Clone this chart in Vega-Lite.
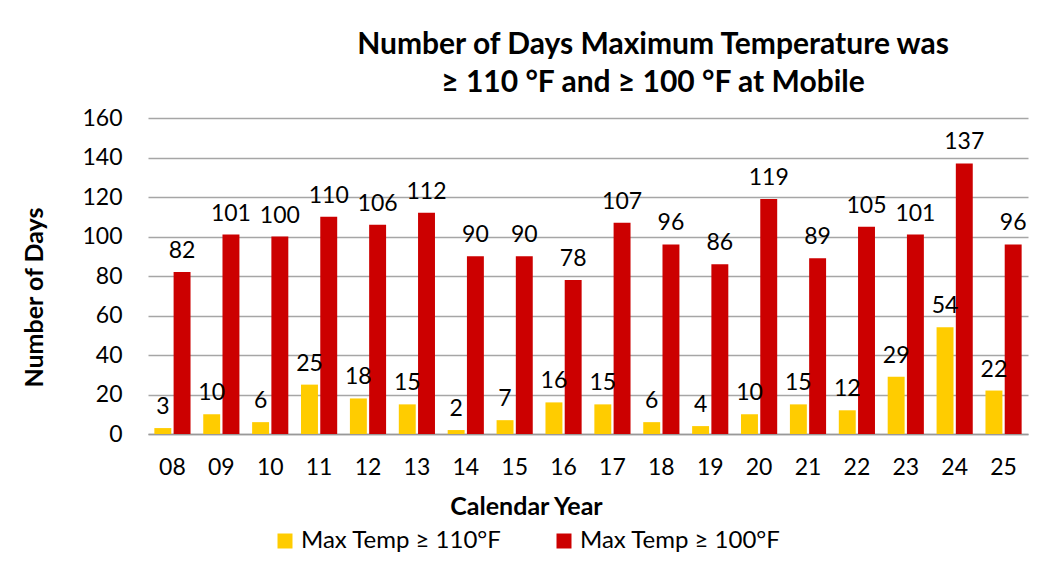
{
  "$schema": "https://vega.github.io/schema/vega-lite/v6.json",
  "width": 880,
  "height": 316,
  "autosize": {"type": "none"},
  "padding": {"left": 148, "top": 118, "right": 13, "bottom": 129},
  "background": "white",
  "title": {
    "text": ["Number of Days Maximum Temperature was", "≥ 110 °F and ≥ 100 °F at Mobile"],
    "fontSize": 30,
    "font": "Lato",
    "fontWeight": "bold",
    "color": "#000000",
    "lineHeight": 38,
    "anchor": "middle",
    "dx": 65,
    "offset": 9
  },
  "config": {
    "font": "Lato",
    "view": {"stroke": null},
    "axis": {"labelFont": "Lato", "titleFont": "Lato", "labelColor": "#000", "titleColor": "#000"}
  },
  "data": {
    "values": [
      {"year": "08", "series": "Max Temp ≥ 110°F", "days": 3},
      {"year": "09", "series": "Max Temp ≥ 110°F", "days": 10},
      {"year": "10", "series": "Max Temp ≥ 110°F", "days": 6},
      {"year": "11", "series": "Max Temp ≥ 110°F", "days": 25},
      {"year": "12", "series": "Max Temp ≥ 110°F", "days": 18},
      {"year": "13", "series": "Max Temp ≥ 110°F", "days": 15},
      {"year": "14", "series": "Max Temp ≥ 110°F", "days": 2},
      {"year": "15", "series": "Max Temp ≥ 110°F", "days": 7},
      {"year": "16", "series": "Max Temp ≥ 110°F", "days": 16},
      {"year": "17", "series": "Max Temp ≥ 110°F", "days": 15},
      {"year": "18", "series": "Max Temp ≥ 110°F", "days": 6},
      {"year": "19", "series": "Max Temp ≥ 110°F", "days": 4},
      {"year": "20", "series": "Max Temp ≥ 110°F", "days": 10},
      {"year": "21", "series": "Max Temp ≥ 110°F", "days": 15},
      {"year": "22", "series": "Max Temp ≥ 110°F", "days": 12},
      {"year": "23", "series": "Max Temp ≥ 110°F", "days": 29},
      {"year": "24", "series": "Max Temp ≥ 110°F", "days": 54},
      {"year": "25", "series": "Max Temp ≥ 110°F", "days": 22},
      {"year": "08", "series": "Max Temp ≥ 100°F", "days": 82},
      {"year": "09", "series": "Max Temp ≥ 100°F", "days": 101},
      {"year": "10", "series": "Max Temp ≥ 100°F", "days": 100},
      {"year": "11", "series": "Max Temp ≥ 100°F", "days": 110},
      {"year": "12", "series": "Max Temp ≥ 100°F", "days": 106},
      {"year": "13", "series": "Max Temp ≥ 100°F", "days": 112},
      {"year": "14", "series": "Max Temp ≥ 100°F", "days": 90},
      {"year": "15", "series": "Max Temp ≥ 100°F", "days": 90},
      {"year": "16", "series": "Max Temp ≥ 100°F", "days": 78},
      {"year": "17", "series": "Max Temp ≥ 100°F", "days": 107},
      {"year": "18", "series": "Max Temp ≥ 100°F", "days": 96},
      {"year": "19", "series": "Max Temp ≥ 100°F", "days": 86},
      {"year": "20", "series": "Max Temp ≥ 100°F", "days": 119},
      {"year": "21", "series": "Max Temp ≥ 100°F", "days": 89},
      {"year": "22", "series": "Max Temp ≥ 100°F", "days": 105},
      {"year": "23", "series": "Max Temp ≥ 100°F", "days": 101},
      {"year": "24", "series": "Max Temp ≥ 100°F", "days": 137},
      {"year": "25", "series": "Max Temp ≥ 100°F", "days": 96}
    ]
  },
  "encoding": {
    "x": {
      "field": "year",
      "type": "nominal",
      "sort": null,
      "scale": {"paddingInner": 0.26, "paddingOuter": 0.13},
      "axis": {
        "title": "Calendar Year",
        "labelAngle": 0,
        "labelFontSize": 23,
        "labelPadding": 22,
        "ticks": false,
        "domainColor": "#999999",
        "domainWidth": 1.5,
        "titleFontSize": 25,
        "titleFontWeight": "bold",
        "titlePadding": 15,
        "titleX": 378
      }
    },
    "xOffset": {
      "field": "series",
      "type": "nominal",
      "sort": ["Max Temp ≥ 110°F", "Max Temp ≥ 100°F"],
      "scale": {"paddingInner": 0.12}
    },
    "y": {
      "field": "days",
      "type": "quantitative",
      "scale": {"domain": [0, 160]},
      "axis": {
        "title": "Number of Days",
        "values": [0, 20, 40, 60, 80, 100, 120, 140, 160],
        "labelFontSize": 23,
        "labelPadding": 26,
        "ticks": false,
        "domain": false,
        "gridColor": "#a6a6a6",
        "gridWidth": 1.5,
        "titleFontSize": 25,
        "titleFontWeight": "bold",
        "titlePadding": 34,
        "titleY": 179
      }
    }
  },
  "layer": [
    {
      "mark": {"type": "bar"},
      "encoding": {
        "color": {
          "field": "series",
          "type": "nominal",
          "sort": ["Max Temp ≥ 110°F", "Max Temp ≥ 100°F"],
          "scale": {"domain": ["Max Temp ≥ 110°F", "Max Temp ≥ 100°F"], "range": ["#FFCC00", "#CC0000"]},
          "legend": {
            "title": null,
            "orient": "none",
            "direction": "horizontal",
            "legendX": 125,
            "legendY": 411,
            "symbolType": "square",
            "symbolSize": 225,
            "symbolStrokeWidth": 0,
            "labelFontSize": 24,
            "labelFont": "Lato",
            "labelColor": "#000",
            "labelLimit": 400,
            "columnPadding": 50,
            "labelOffset": 4
          }
        }
      }
    },
    {
      "mark": {"type": "text", "baseline": "bottom", "dy": -9, "fontSize": 23, "color": "#000"},
      "encoding": {
        "text": {"field": "days", "type": "quantitative"}
      }
    }
  ]
}
